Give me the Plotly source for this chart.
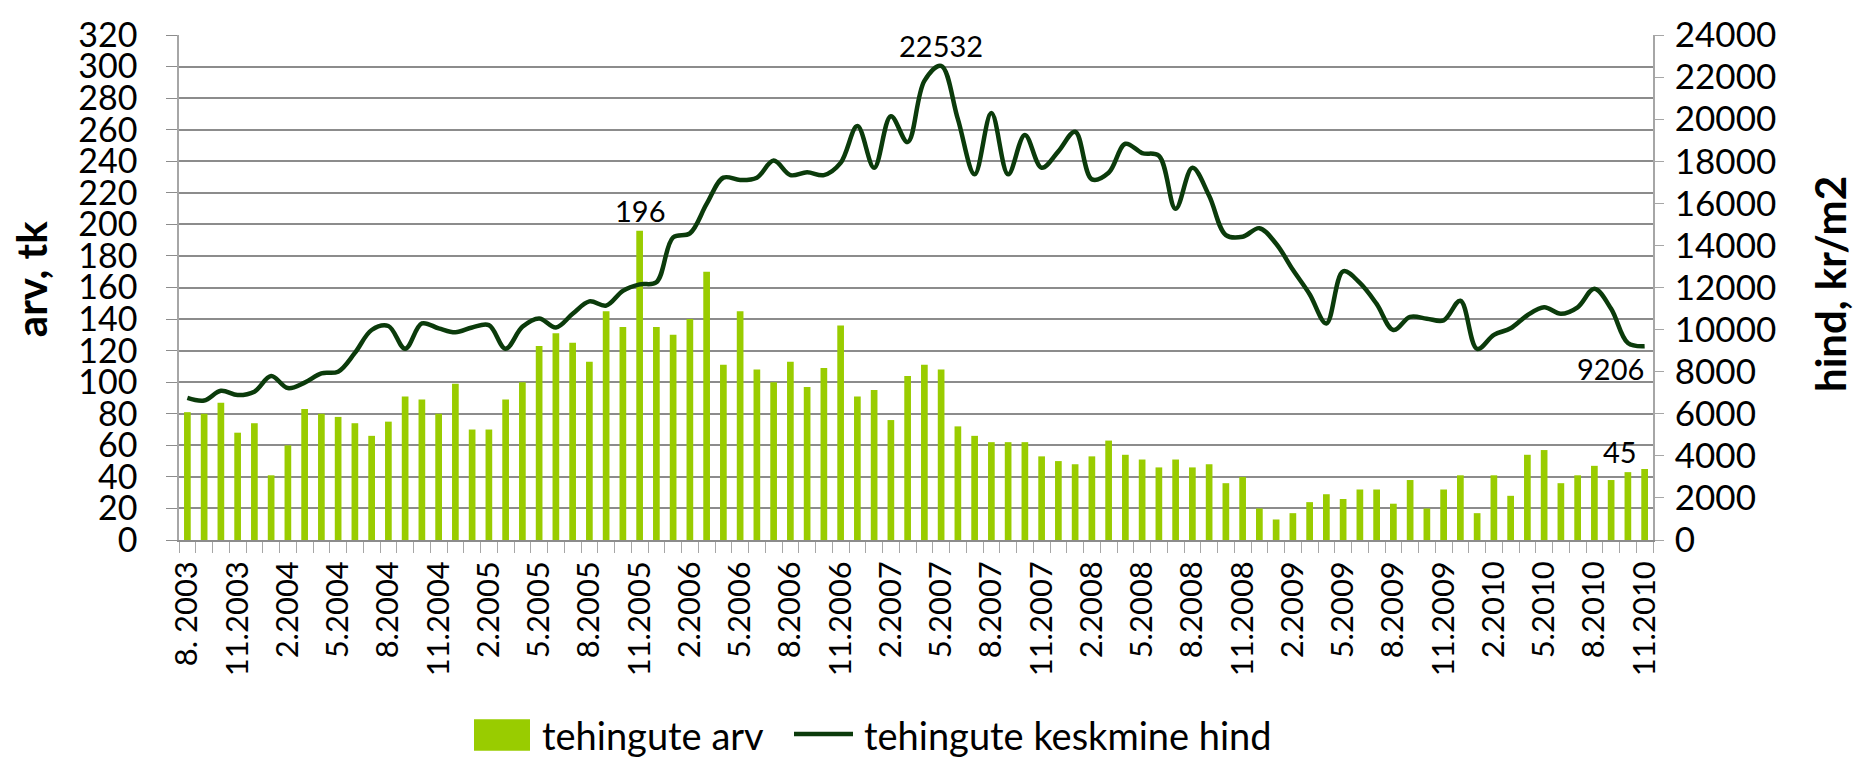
import plotly.graph_objects as go

# ---------------- data ----------------
months = [
    "2003-08", "2003-09", "2003-10", "2003-11", "2003-12",
    "2004-01", "2004-02", "2004-03", "2004-04", "2004-05", "2004-06", "2004-07", "2004-08", "2004-09", "2004-10", "2004-11", "2004-12",
    "2005-01", "2005-02", "2005-03", "2005-04", "2005-05", "2005-06", "2005-07", "2005-08", "2005-09", "2005-10", "2005-11", "2005-12",
    "2006-01", "2006-02", "2006-03", "2006-04", "2006-05", "2006-06", "2006-07", "2006-08", "2006-09", "2006-10", "2006-11", "2006-12",
    "2007-01", "2007-02", "2007-03", "2007-04", "2007-05", "2007-06", "2007-07", "2007-08", "2007-09", "2007-10", "2007-11", "2007-12",
    "2008-01", "2008-02", "2008-03", "2008-04", "2008-05", "2008-06", "2008-07", "2008-08", "2008-09", "2008-10", "2008-11", "2008-12",
    "2009-01", "2009-02", "2009-03", "2009-04", "2009-05", "2009-06", "2009-07", "2009-08", "2009-09", "2009-10", "2009-11", "2009-12",
    "2010-01", "2010-02", "2010-03", "2010-04", "2010-05", "2010-06", "2010-07", "2010-08", "2010-09", "2010-10", "2010-11",
]

tehingute_arv = [
    81, 80, 87, 68, 74,
    41, 60, 83, 80, 78, 74, 66, 75, 91, 89, 80, 99,
    70, 70, 89, 100, 123, 131, 125, 113, 145, 135, 196, 135,
    130, 140, 170, 111, 145, 108, 100, 113, 97, 109, 136, 91,
    95, 76, 104, 111, 108, 72, 66, 62, 62, 62, 53, 50,
    48, 53, 63, 54, 51, 46, 51, 46, 48, 36, 40, 20,
    13, 17, 24, 29, 26, 32, 32, 23, 38, 20, 32, 41,
    17, 41, 28, 54, 57, 36, 41, 47, 38, 43, 45,
]

keskmine_hind = [
    6750, 6630, 7090, 6890, 7050,
    7790, 7220, 7480, 7920, 8000, 8890, 9980, 10170, 9090, 10290, 10060, 9870,
    10100, 10210, 9090, 10130, 10530, 10100, 10750, 11340, 11140, 11840, 12150, 12250,
    14380, 14570, 15970, 17220, 17110, 17220, 18030, 17340, 17480, 17340, 17920, 19670,
    17690, 20140, 18910, 21820, 22532, 20000, 17380, 20290, 17380, 19250, 17690, 18470,
    19400, 17140, 17450, 18830, 18390, 18260, 15740, 17690, 16360, 14490, 14410, 14820,
    14080, 12840, 11680, 10290, 12770, 12220, 11220, 9980, 10600, 10520, 10440, 11370,
    9080, 9750, 10060, 10680, 11060, 10750, 11060, 11940, 10990, 9360, 9206,
]

tick_labels = [
    "8. 2003", "11.2003", "2.2004", "5.2004", "8.2004", "11.2004",
    "2.2005", "5.2005", "8.2005", "11.2005", "2.2006", "5.2006",
    "8.2006", "11.2006", "2.2007", "5.2007", "8.2007", "11.2007",
    "2.2008", "5.2008", "8.2008", "11.2008", "2.2009", "5.2009",
    "8.2009", "11.2009", "2.2010", "5.2010", "8.2010", "11.2010",
]

series_names = ["tehingute arv", "tehingute keskmine hind"]
axis_titles = ["arv, tk", "hind, kr/m2"]

# ---------------- layout constants ----------------
W, H = 1856, 762
PL, PR, PT, PB = 179, 1653, 27, 540
BAR_COLOR = "#99CC00"
LINE_COLOR = "#0B3B0B"
GRID = "#8c8c8c"
AXIS = "#a6a6a6"
FONT = "Lato"


def xp(px):
    return (px - PL) / (PR - PL)


def yp(py):
    return (PB - py) / (PB - PT)


x = list(range(len(months)))
tickvals = x[::3]

# indices of labelled points
i_max_bar = tehingute_arv.index(max(tehingute_arv))
i_max_line = keskmine_hind.index(max(keskmine_hind))
i_last = len(months) - 1

fig = go.Figure()
fig.add_trace(go.Bar(
    x=x, y=tehingute_arv, name=series_names[0],
    marker=dict(color=BAR_COLOR, line=dict(width=0)),
    yaxis="y", showlegend=False,
))
fig.add_trace(go.Scatter(
    x=x, y=keskmine_hind, name=series_names[1], mode="lines",
    line=dict(color=LINE_COLOR, width=4.5, shape="spline", smoothing=1.0),
    yaxis="y2", showlegend=False,
))

annotations = [
    # data labels
    dict(x=i_max_bar, y=tehingute_arv[i_max_bar], xref="x", yref="y",
         text=str(tehingute_arv[i_max_bar]), showarrow=False,
         xanchor="center", yanchor="bottom", yshift=1,
         font=dict(family=FONT, size=29, color="black")),
    dict(x=i_max_line, y=keskmine_hind[i_max_line], xref="x", yref="y2",
         text=str(keskmine_hind[i_max_line]), showarrow=False,
         xanchor="center", yanchor="bottom", yshift=1,
         font=dict(family=FONT, size=29, color="black")),
    dict(x=i_last, y=keskmine_hind[i_last], xref="x", yref="y2",
         text=str(keskmine_hind[i_last]), showarrow=False,
         xanchor="right", yanchor="top", xshift=1, yshift=-3,
         font=dict(family=FONT, size=29, color="black")),
    dict(x=i_last, y=tehingute_arv[i_last], xref="x", yref="y",
         text=str(tehingute_arv[i_last]), showarrow=False,
         xanchor="right", yanchor="bottom", xshift=-6, yshift=-2,
         font=dict(family=FONT, size=29, color="black")),
    # axis titles
    dict(x=xp(31), y=yp(275), xref="paper", yref="paper", text="<b>%s</b>" % axis_titles[0],
         showarrow=False, textangle=-90, xanchor="center", yanchor="middle",
         font=dict(family=FONT, size=42, color="black")),
    dict(x=xp(1830), y=yp(280), xref="paper", yref="paper", text="<b>%s</b>" % axis_titles[1],
         showarrow=False, textangle=-90, xanchor="center", yanchor="middle",
         font=dict(family=FONT, size=42, color="black")),
    # legend texts
    dict(x=xp(540), y=yp(738), xref="paper", yref="paper", text=series_names[0],
         showarrow=False, xanchor="left", yanchor="middle",
         font=dict(family=FONT, size=38, color="black")),
    dict(x=xp(862), y=yp(738), xref="paper", yref="paper", text=series_names[1],
         showarrow=False, xanchor="left", yanchor="middle",
         font=dict(family=FONT, size=38, color="black")),
]

shapes = [
    dict(type="rect", xref="paper", yref="paper",
         x0=xp(474), x1=xp(530), y0=yp(754), y1=yp(722),
         fillcolor=BAR_COLOR, line=dict(width=0)),
    dict(type="line", xref="paper", yref="paper",
         x0=xp(794), x1=xp(853), y0=yp(737), y1=yp(737),
         line=dict(color=LINE_COLOR, width=4.5)),
]

fig.update_layout(
    width=W, height=H, autosize=False,
    margin=dict(l=PL, r=W - PR, t=PT, b=H - PB, pad=0),
    paper_bgcolor="white", plot_bgcolor="white",
    font=dict(family=FONT, color="black"),
    bargap=0.6,
    showlegend=False,
    xaxis=dict(
        range=[-0.5, len(months) - 0.5],
        tickmode="array", tickvals=tickvals, ticktext=tick_labels,
        tickangle=-90, ticks="", showgrid=False, zeroline=False,
        showline=True, linecolor=GRID, linewidth=1.5,
        tickfont=dict(family=FONT, size=31, color="black"),
        ticklabelstandoff=7,
        minor=dict(ticks="outside", ticklen=11, tickwidth=1.3, tickcolor=AXIS,
                   tick0=-0.5, dtick=1, showgrid=False),
    ),
    yaxis=dict(
        range=[0, 320], tick0=0, dtick=20,
        showgrid=True, gridcolor=GRID, gridwidth=1.5,
        ticks="outside", ticklen=11, tickcolor=GRID, tickwidth=1.3,
        showline=True, linecolor=AXIS, linewidth=1.5, zeroline=False,
        tickfont=dict(family=FONT, size=34, color="black"),
        ticklabelstandoff=22,
    ),
    yaxis2=dict(
        overlaying="y", side="right", anchor="x",
        range=[0, 24000], tick0=0, dtick=2000, tickformat="d",
        showgrid=False, zeroline=False,
        ticks="outside", ticklen=9, tickcolor=AXIS, tickwidth=1.3,
        showline=True, linecolor=AXIS, linewidth=1.5,
        tickfont=dict(family=FONT, size=35, color="black"),
        ticklabelstandoff=4,
    ),
    annotations=annotations,
    shapes=shapes,
)

fig.write_html("out.html", config={"displayModeBar": False},
               post_script="document.body.style.margin='0px';")
